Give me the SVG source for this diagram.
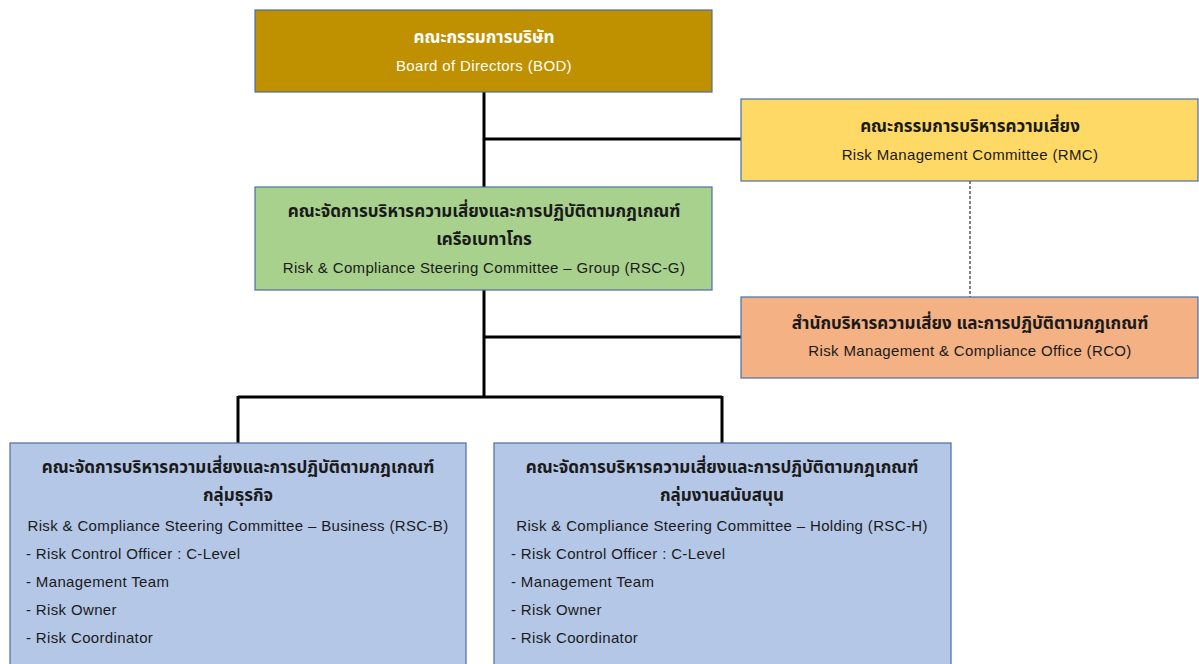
<svg xmlns="http://www.w3.org/2000/svg" width="1199" height="664" viewBox="0 0 1199 664">
<style>
.box{stroke:#4A6FA5;stroke-width:1.2}
text{font-family:"Liberation Sans","Noto Sans","Noto Sans Thai",Tahoma,sans-serif;font-size:15px;letter-spacing:0.35px;fill:#1a1a1a}
.th{font-size:17px;font-weight:bold;letter-spacing:0}
.c{text-anchor:middle}
.w{fill:#ffffff}
.conn{stroke:#000;stroke-width:3;fill:none}
</style>
<rect width="1199" height="664" fill="#ffffff"/>
<g id="connectors">
<path class="conn" d="M484 92 V397 M484 139 H741 M484 337 H741 M238 397 H722 M238 396 V443 M722 396 V443"/>
<path d="M970 181 V297" stroke="#000" stroke-width="1" stroke-dasharray="3,2" fill="none"/>
</g>
<g id="bod">
<rect class="box" x="255" y="10" width="457" height="82" fill="#BF9000"/>
<text class="th c w" x="484" y="43">คณะกรรมการบริษัท</text>
<text class="c w" x="484" y="71">Board of Directors (BOD)</text>
</g>
<g id="rmc">
<rect class="box" x="741" y="99" width="457" height="82" fill="#FFD966"/>
<text class="th c" x="970" y="132">คณะกรรมการบริหารความเสี่ยง</text>
<text class="c" x="970" y="160">Risk Management Committee (RMC)</text>
</g>
<g id="rscg">
<rect class="box" x="255" y="187" width="457" height="103" fill="#A9D18E"/>
<text class="th c" x="484" y="217">คณะจัดการบริหารความเสี่ยงและการปฏิบัติตามกฎเกณฑ์</text>
<text class="th c" x="484" y="245">เครือเบทาโกร</text>
<text class="c" x="484" y="273">Risk &amp; Compliance Steering Committee – Group (RSC-G)</text>
</g>
<g id="rco">
<rect class="box" x="741" y="297" width="457" height="81" fill="#F4B183"/>
<text class="th c" x="970" y="329">สำนักบริหารความเสี่ยง และการปฏิบัติตามกฎเกณฑ์</text>
<text class="c" x="970" y="356">Risk Management &amp; Compliance Office (RCO)</text>
</g>
<g id="rscb">
<rect class="box" x="10" y="443" width="456" height="230" fill="#B4C7E7"/>
<text class="th c" x="238" y="473">คณะจัดการบริหารความเสี่ยงและการปฏิบัติตามกฎเกณฑ์</text>
<text class="th c" x="238" y="501">กลุ่มธุรกิจ</text>
<text class="c" x="238" y="531">Risk &amp; Compliance Steering Committee – Business (RSC-B)</text>
<text x="26" y="559">- Risk Control Officer : C-Level</text>
<text x="26" y="587">- Management Team</text>
<text x="26" y="615">- Risk Owner</text>
<text x="26" y="643">- Risk Coordinator</text>
</g>
<g id="rsch">
<rect class="box" x="494" y="443" width="457" height="230" fill="#B4C7E7"/>
<text class="th c" x="722" y="473">คณะจัดการบริหารความเสี่ยงและการปฏิบัติตามกฎเกณฑ์</text>
<text class="th c" x="722" y="501">กลุ่มงานสนับสนุน</text>
<text class="c" x="722" y="531">Risk &amp; Compliance Steering Committee – Holding (RSC-H)</text>
<text x="511" y="559">- Risk Control Officer : C-Level</text>
<text x="511" y="587">- Management Team</text>
<text x="511" y="615">- Risk Owner</text>
<text x="511" y="643">- Risk Coordinator</text>
</g>
</svg>
